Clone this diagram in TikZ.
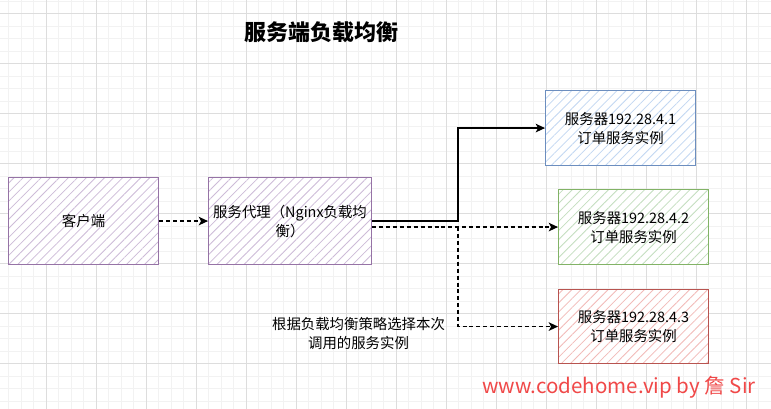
\documentclass[tikz,border=0pt]{standalone}
\usepackage{fontspec}
\setmainfont{Noto Sans CJK SC}
\usetikzlibrary{arrows.meta,patterns.meta}
\definecolor{purpleS}{HTML}{9673A6}
\definecolor{purpleF}{HTML}{CDBBD8}
\definecolor{blueS}{HTML}{6C8EBF}
\definecolor{blueF}{HTML}{C2D7F2}
\definecolor{greenS}{HTML}{82B366}
\definecolor{greenF}{HTML}{C4DEBF}
\definecolor{redS}{HTML}{B85450}
\definecolor{redF}{HTML}{F2BAB8}
\definecolor{gridminor}{HTML}{F2F2F2}
\definecolor{gridmajor}{HTML}{DDDDDD}
\definecolor{wmred}{RGB}{240,72,72}
\tikzset{
  box/.style={draw=#1S, line width=0.85pt, anchor=north west,
    preaction={fill=white},
    preaction={pattern={Lines[angle=45,distance=4.8pt,line width=0.6pt]}, pattern color=#1F},
    font=\fontsize{10.8}{14.2}\selectfont, align=center, inner sep=1pt},
  conn/.style={line width=0.9pt, -{Stealth[length=7pt,width=6.5pt,inset=1.8pt]}},
  dashconn/.style={conn, dash pattern=on 3pt off 2.2pt},
}
\begin{document}
\begin{tikzpicture}[x=0.75pt,y=-0.75pt]
\useasboundingbox (0,0) rectangle (771,409);
\fill[white] (0,0) rectangle (771,409);
% grid
\foreach \x in {-4,8.5,...,772} \draw[gridminor, line width=0.75pt] (\x,0) -- (\x,409);
\foreach \y in {1.5,14,...,410} \draw[gridminor, line width=0.75pt] (0,\y) -- (771,\y);
\foreach \x in {46,96,...,771} \draw[gridmajor, line width=0.75pt] (\x,0) -- (\x,409);
\foreach \y in {14,64,...,409} \draw[gridmajor, line width=0.75pt] (0,\y) -- (771,\y);

% title
\node[font=\fontsize{16.5}{18}\selectfont\bfseries] (title) at (321,32) {服务端负载均衡};

% boxes
\node[box=purple, minimum width=112.5pt, minimum height=65.25pt] (client) at (8,177) {客户端};
\node[box=purple, minimum width=122.25pt, minimum height=65.25pt] (proxy) at (208,177) {服务代理（Nginx负载均\\衡）};
\node[box=blue, minimum width=112.5pt, minimum height=56.25pt] (s1) at (545,90) {服务器192.28.4.1\\订单服务实例};
\node[box=green, minimum width=112.5pt, minimum height=56.25pt] (s2) at (558,189) {服务器192.28.4.2\\订单服务实例};
\node[box=red, minimum width=112.5pt, minimum height=55.5pt] (s3) at (558,289) {服务器192.28.4.3\\订单服务实例};

% label
\node[font=\fontsize{10.8}{14.2}\selectfont, align=center] (note) at (358.5,334) {根据负载均衡策略选择本次\\调用的服务实例};

% watermark
\node[font=\fontsize{15.4}{18}\selectfont, text=wmred] (wm) at (619,387) {www.codehome.vip by 詹 Sir};

% connectors
\coordinate (split) at (458,0);
\draw[dashconn] (client.east) -- (proxy.west);
\draw[conn] (proxy.east) -- (split |- proxy.east) |- (s1.west);
\draw[dashconn] (proxy.east |- s2.west) -- (s2.west);
\draw[dashconn] (split |- s2.west) |- (s3.west);
\end{tikzpicture}
\end{document}
